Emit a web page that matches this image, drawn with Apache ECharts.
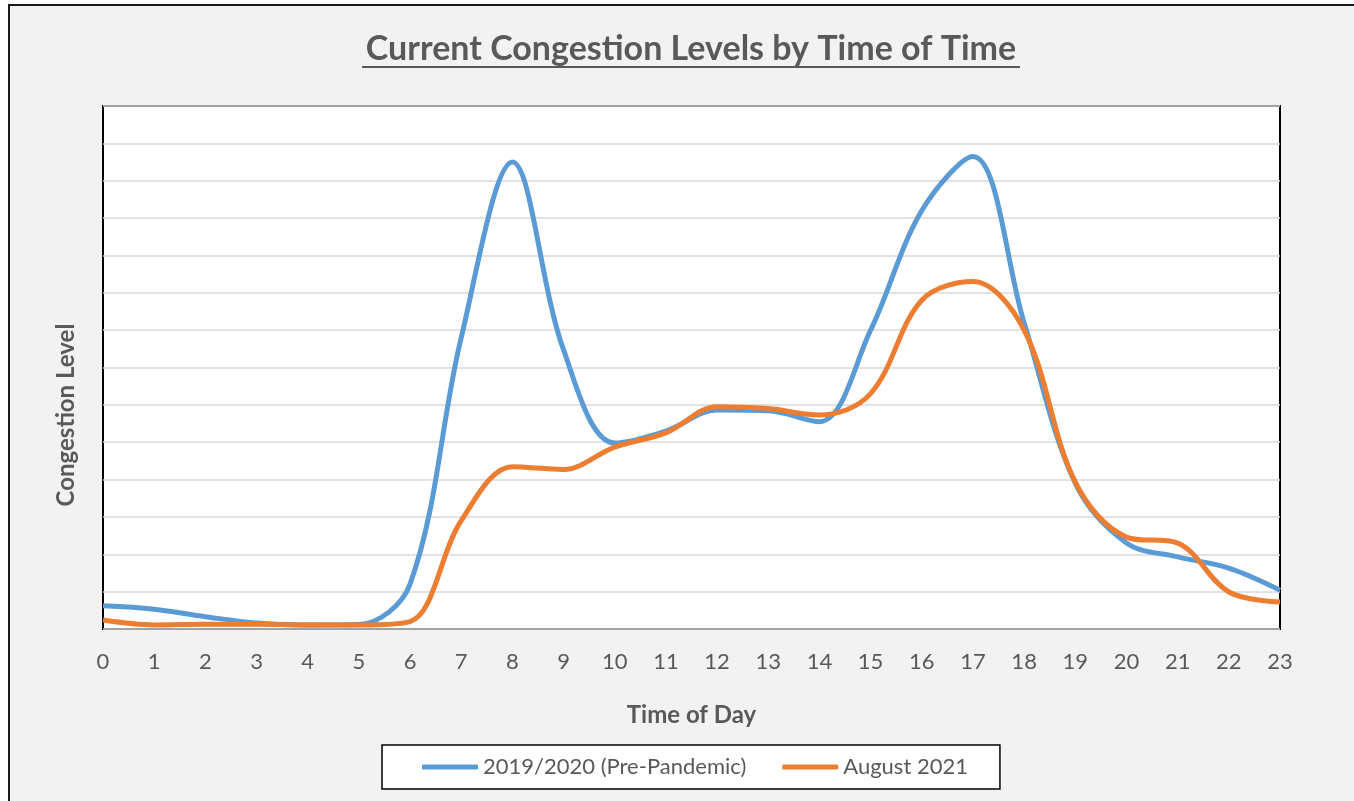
<!DOCTYPE html>
<html>
<head>
    <meta charset="utf-8">
    <title>Current Congestion Levels by Time of Time</title>
    <script src="https://cdn.jsdelivr.net/npm/echarts@6/dist/echarts.min.js"></script>
    <style>
        html, body { margin: 0; padding: 0; background: #fff; overflow: hidden; }
        #frame { position: absolute; left: 8px; top: 4px; width: 1400px; height: 850px;
                 background: #f2f2f2; border-left: 2px solid #1a1a1a; border-top: 2px solid #1a1a1a; }
        #chart { position: absolute; left: 0; top: 0; width: 1354px; height: 801px; }
    </style>
</head>
<body>
    <div id="frame"></div>
    <div id="chart"></div>
    <script>
    // hours of the day
    var hours = ["0", "1", "2", "3", "4", "5", "6", "7", "8", "9", "10", "11",
        "12", "13", "14", "15", "16", "17", "18", "19", "20", "21", "22", "23"];

    // congestion level (1 unit = one gridline)
    var prePandemic = [0.62, 0.53, 0.33, 0.16, 0.11, 0.12, 1.2, 7.8, 12.5, 7.47, 4.98, 5.3,
        5.86, 5.84, 5.55, 8.0, 11.2, 12.65, 8.2, 3.9, 2.3, 1.93, 1.63, 1.04];
    var aug2021 = [0.24, 0.11, 0.13, 0.13, 0.11, 0.11, 0.2, 2.9, 4.34, 4.27, 4.87, 5.25,
        5.95, 5.9, 5.73, 6.3, 8.8, 9.3, 8.0, 3.93, 2.46, 2.3, 0.99, 0.72];

    var seriesNames = ["2019/2020 (Pre-Pandemic)", "August 2021"];

    var textColor = "#595959";
    var fontFamily = "Lato, 'Open Sans', sans-serif";

    var chart = echarts.init(document.getElementById("chart"));

    var option = {
        backgroundColor: "transparent",
        animation: false,
        textStyle: { fontFamily: fontFamily, color: textColor },
        color: ["#5b9bd5", "#ed7d31"],
        graphic: [
            {
                type: "text", x: 691, y: 32,
                style: { text: "Current Congestion Levels by Time of Time", fontSize: 34, fontWeight: "bold",
                    fill: textColor, fontFamily: fontFamily, align: "center", verticalAlign: "top" }
            },
            {
                type: "line", shape: { x1: 362, y1: 67, x2: 1020, y2: 67 },
                style: { stroke: textColor, lineWidth: 2 }
            },
            {
                type: "text", x: 54, y: 415, rotation: Math.PI / 2,
                style: { text: "Congestion Level", fontSize: 24, fontWeight: "bold", fill: textColor,
                    fontFamily: fontFamily, align: "center", verticalAlign: "top" }
            }
        ],
        grid: {
            left: 103, right: 74, top: 106, bottom: 172,
            show: true, backgroundColor: "#fff", borderColor: "#000", borderWidth: 2
        },
        legend: {
            bottom: 12, left: 382,
            data: seriesNames,
            backgroundColor: "#fff", borderColor: "#000", borderWidth: 1.5, borderRadius: 0,
            padding: [11, 32, 11, 40],
            itemWidth: 56, itemHeight: 5, itemGap: 36,
            icon: "roundRect",
            textStyle: { fontSize: 22, color: textColor, fontFamily: fontFamily }
        },
        xAxis: {
            type: "category", data: hours, boundaryGap: false,
            name: "Time of Day", nameLocation: "middle", nameGap: 74,
            nameTextStyle: { fontSize: 24, fontWeight: "bold", color: textColor },
            axisLine: { show: false }, axisTick: { show: false },
            axisLabel: { fontSize: 22, color: textColor, margin: 22 },
            splitLine: { show: false }
        },
        yAxis: {
            type: "value", min: 0, max: 14, interval: 1,
            axisLine: { show: false }, axisTick: { show: false }, axisLabel: { show: false },
            splitLine: { lineStyle: { color: "#d9d9d9", width: 1.5 } }
        },
        series: [
            { name: seriesNames[0], type: "line", data: prePandemic, smooth: 0.35, symbol: "none",
              lineStyle: { width: 5, color: "#5b9bd5" } },
            { name: seriesNames[1], type: "line", data: aug2021, smooth: 0.35, symbol: "none",
              lineStyle: { width: 5, color: "#ed7d31" } }
        ]
    };

    chart.setOption(option);
    </script>
</body>
</html>
